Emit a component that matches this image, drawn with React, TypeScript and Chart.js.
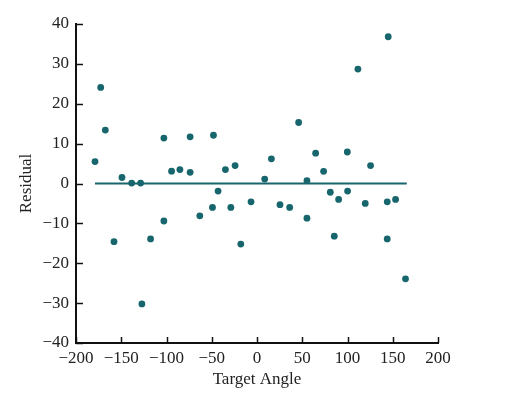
import React, { useEffect, useRef } from "react";
import { Chart, registerables } from "chart.js";

Chart.register(...registerables);

// Target angle (x) and residual (y)
const targetAngle = [
  -179, -172.7, -167.6, -158, -149.2, -138.5, -128.6, -127.2, -117.6, -102.9,
  -102.9, -94.4, -85.2, -73.9, -73.9, -63.2, -49.2, -48.1, -43, -34.9,
  -28.9, -24.2, -17.9, -6.6, 8.5, 15.9, 25.4, 36.1, 46, 55.2,
  55.2, 64.8, 73.6, 81, 85.4, 90.2, 99.8, 100.1, 111.5, 119.6,
  125.5, 143.9, 143.9, 145, 153.1, 164.1,
];
const residual = [
  5.5, 24.1, 13.4, -14.6, 1.5, 0.1, 0.1, -30.2, -13.9, 11.4,
  -9.4, 3.1, 3.5, 11.7, 2.8, -8.1, -6.0, 12.1, -1.9, 3.5,
  -6.0, 4.5, -15.2, -4.6, 1.1, 6.2, -5.3, -6.0, 15.3, 0.7,
  -8.7, 7.6, 3.05, -2.2, -13.2, -4.0, 7.9, -1.9, 28.7, -5.0,
  4.5, -4.6, -13.9, 36.8, -4.0, -23.9,
];
const zeroLineX = [-179, 165.5];
const zeroLineY = [0, 0];

const xTicks = [-200, -150, -100, -50, 0, 50, 100, 150, 200];
const yTicks = [-40, -30, -20, -10, 0, 10, 20, 30, 40];

const TEAL = "#17666d";
const FONT = "'Liberation Serif', 'DejaVu Serif', serif";

const innerTicks = {
  id: "innerTicks",
  afterDraw(chart: any) {
    const { ctx, scales, chartArea } = chart;
    ctx.save();
    ctx.strokeStyle = "#111";
    ctx.lineWidth = 1.5;
    for (const v of xTicks) {
      const px = Math.round(scales.x.getPixelForValue(v)) + 0.5;
      ctx.beginPath();
      ctx.moveTo(px, chartArea.bottom);
      ctx.lineTo(px, chartArea.bottom - 6);
      ctx.stroke();
    }
    for (const v of yTicks) {
      const py = Math.round(scales.y.getPixelForValue(v)) + 0.5;
      ctx.beginPath();
      ctx.moveTo(chartArea.left, py);
      ctx.lineTo(chartArea.left + 7, py);
      ctx.stroke();
    }
    ctx.restore();
  },
};

const fmt = (v: any) => String(v).replace("-", "\u2212");

export default function App() {
  const ref = useRef<HTMLCanvasElement>(null);
  useEffect(() => {
    if (!ref.current) return;
    const chart = new Chart(ref.current, {
      type: "scatter",
      data: {
        datasets: [
          {
            type: "scatter",
            data: targetAngle.map((x, i) => ({ x, y: residual[i] })),
            backgroundColor: TEAL,
            borderColor: TEAL,
            pointRadius: 3.4,
            pointBorderWidth: 0,
            order: 1,
          },
          {
            type: "line",
            data: zeroLineX.map((x, i) => ({ x, y: zeroLineY[i] })),
            borderColor: TEAL,
            borderWidth: 2,
            pointRadius: 0,
            showLine: true,
            order: 2,
          } as any,
        ],
      },
      options: {
        animation: false,
        responsive: false,
        maintainAspectRatio: false,
        layout: { padding: { left: 0, top: 24, right: 69, bottom: 0 } },
        plugins: { legend: { display: false }, tooltip: { enabled: false } },
        scales: {
          x: {
            type: "linear",
            min: -200,
            max: 200,
            afterBuildTicks: (s: any) => {
              s.ticks = xTicks.map((v) => ({ value: v }));
            },
            afterFit: (s: any) => {
              s.height = 56;
            },
            grid: { display: false, drawTicks: false },
            border: { display: true, color: "#111", width: 2 },
            ticks: {
              padding: 5,
              color: "#222",
              font: { family: FONT, size: 17 },
              callback: fmt,
              maxRotation: 0,
              autoSkip: false,
            },
            title: {
              display: true,
              text: "Target Angle",
              color: "#222",
              font: { family: FONT, size: 17 },
              padding: { top: 0, bottom: 9 },
            },
          },
          y: {
            type: "linear",
            min: -40,
            max: 40,
            afterBuildTicks: (s: any) => {
              s.ticks = yTicks.map((v) => ({ value: v }));
            },
            afterFit: (s: any) => {
              s.width = 76;
            },
            grid: { display: false, drawTicks: false },
            border: { display: true, color: "#111", width: 2 },
            ticks: {
              padding: 7,
              color: "#222",
              font: { family: FONT, size: 17 },
              callback: fmt,
              autoSkip: false,
            },
            title: {
              display: true,
              text: "Residual",
              color: "#222",
              font: { family: FONT, size: 17 },
              padding: { top: 16, bottom: 0 },
            },
          },
        },
      },
      plugins: [innerTicks],
    });
    return () => chart.destroy();
  }, []);
  return (
    <div style={{ position: "fixed", left: 0, top: 0, width: 507, height: 399, background: "#fff" }}>
      <canvas ref={ref} width={507} height={399} style={{ width: 507, height: 399 }} />
    </div>
  );
}
